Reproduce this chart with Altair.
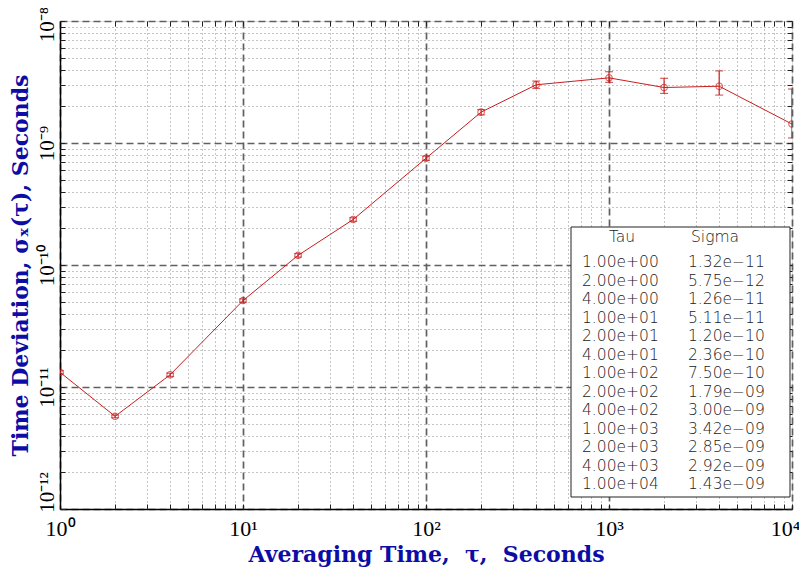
import altair as alt
import pandas as pd

# ---- data ----
tau = [1, 2, 4, 10, 20, 40, 100, 200, 400, 1000, 2000, 4000, 10000]
sigma = [1.32e-11, 5.75e-12, 1.26e-11, 5.11e-11, 1.20e-10, 2.36e-10, 7.50e-10,
         1.79e-09, 3.00e-09, 3.42e-09, 2.85e-09, 2.92e-09, 1.43e-09]
sigma_lo = [1.28e-11, 5.60e-12, 1.22e-11, 4.95e-11, 1.16e-10, 2.28e-10, 7.20e-10,
            1.70e-09, 2.80e-09, 3.14e-09, 2.55e-09, 2.47e-09, 1.10e-09]
sigma_hi = [1.36e-11, 5.90e-12, 1.30e-11, 5.27e-11, 1.24e-10, 2.44e-10, 7.80e-10,
            1.88e-09, 3.22e-09, 3.84e-09, 3.39e-09, 3.90e-09, 2.77e-09]
tau_text = ["1.00e+00", "2.00e+00", "4.00e+00", "1.00e+01", "2.00e+01", "4.00e+01",
            "1.00e+02", "2.00e+02", "4.00e+02", "1.00e+03", "2.00e+03", "4.00e+03",
            "1.00e+04"]
sigma_text = ["1.32e−11", "5.75e−12", "1.26e−11", "5.11e−11", "1.20e−10", "2.36e−10",
              "7.50e−10", "1.79e−09", "3.00e−09", "3.42e−09", "2.85e−09", "2.92e−09",
              "1.43e−09"]
header = ["Tau", "Sigma"]
x_decades = [0, 1, 2, 3, 4]
y_decades = [-12, -11, -10, -9, -8]

df = pd.DataFrame({"tau": tau, "sigma": sigma, "lo": sigma_lo, "hi": sigma_hi})
tbl = pd.DataFrame({"row": list(range(len(tau_text))), "t": tau_text, "s": sigma_text})
hdr = pd.DataFrame({"row": [-1.35]})

SUP = {"0": "⁰", "1": "¹", "2": "²", "3": "³", "4": "⁴", "5": "⁵", "6": "⁶",
       "7": "⁷", "8": "⁸", "9": "⁹", "-": "⁻"}


def sup(n):
    return "".join(SUP[c] for c in str(n))


def minor_values(decs):
    vals = []
    for d in decs[:-1]:
        for k in range(1, 10):
            vals.append(float(f"{k}e{d}"))
    vals.append(float(f"1e{decs[-1]}"))
    return vals


def label_expr(decs):
    expr = "''"
    for d in reversed(decs):
        expr = f"(abs(log(datum.value)/LN10 - ({d})) < 0.001) ? '10{sup(d)}' : {expr}"
    return expr


MAJOR = "abs(log(datum.value)/LN10 - round(log(datum.value)/LN10)) < 0.001"
grid_dash = {"condition": {"test": MAJOR, "value": [7, 4]}, "value": [1, 3]}
grid_color = {"condition": {"test": MAJOR, "value": "#606060"}, "value": "#8a8a8a"}
grid_width = {"condition": {"test": MAJOR, "value": 1.7}, "value": 1}
x_label_off = {"condition": {"test": "datum.value > 9999", "value": -7}, "value": 0}
y_label_off = {"condition": [{"test": "datum.value < 1.1e-12", "value": -17},
                             {"test": "datum.value > 0.9e-8", "value": 3}], "value": 0}

xv = minor_values(x_decades)
yv = minor_values(y_decades)
xscale = alt.Scale(type="log", domain=[1, 10000], nice=False)
yscale = alt.Scale(type="log", domain=[1e-12, 1e-8], nice=False)

BLUE = "#0d0da6"
RED = "#c81e1e"
SERIF = "Liberation Serif"
TSERIF = "DejaVu Serif"
NB = "\u00a0"

x_main = alt.X("tau:Q", scale=xscale, axis=alt.Axis(
    values=xv, labelExpr=label_expr(x_decades), tickSize=0, grid=True,
    gridDash=grid_dash, gridColor=grid_color, gridWidth=grid_width,
    domainColor="#000000", domainWidth=1.5,
    labelFont=SERIF, labelFontSize=22, labelColor="#000000", labelPadding=9,
    labelOffset=x_label_off, labelFlush=False, labelOverlap=False,
    title=f"Averaging Time,{NB} τ,{NB} Seconds", titleFont=TSERIF,
    titleFontSize=22, titleFontWeight="bold", titleColor=BLUE,
    titleX=366, titleY=52, titleBaseline="alphabetic", titleAlign="center"))
y_main = alt.Y("sigma:Q", scale=yscale, axis=alt.Axis(
    values=yv, labelExpr=label_expr(y_decades), tickSize=0, grid=True,
    gridDash=grid_dash, gridColor=grid_color, gridWidth=grid_width,
    domainColor="#000000", domainWidth=1.5,
    labelFont=SERIF, labelFontSize=21, labelColor="#000000", labelPadding=3,
    labelAngle=270, labelOffset=y_label_off, labelFlush=False, labelOverlap=False,
    title="Time Deviation, σₓ(τ), Seconds", titleFont=TSERIF,
    titleFontSize=22, titleFontWeight="bold", titleColor=BLUE,
    titleX=-40, titleY=244, titleBaseline="middle", titleAlign="center", titleAngle=270))

line = alt.Chart(df).mark_line(color=RED, strokeWidth=1, clip=True).encode(x=x_main, y=y_main)

xn = alt.X("tau:Q", scale=xscale, axis=None)
yn = alt.Y("sigma:Q", scale=yscale, axis=None)

bars = alt.Chart(df).mark_rule(color=RED, strokeWidth=1.2, clip=True).encode(
    x=xn, y=alt.Y("lo:Q", scale=yscale, axis=None), y2="hi:Q")
cap_lo = alt.Chart(df).mark_tick(color=RED, orient="horizontal", size=8, thickness=1.2,
                                 clip=True).encode(x=xn, y=alt.Y("lo:Q", scale=yscale, axis=None))
cap_hi = alt.Chart(df).mark_tick(color=RED, orient="horizontal", size=8, thickness=1.2,
                                 clip=True).encode(x=xn, y=alt.Y("hi:Q", scale=yscale, axis=None))
pts = alt.Chart(df).mark_point(shape="circle", size=42, filled=False, color=RED,
                               strokeWidth=1.1, clip=True).encode(x=xn, y=yn)


def tick_axis(orient, vals):
    return alt.Axis(orient=orient, values=vals, offset=-5, tickSize=5, tickColor="#222222",
                    tickWidth=1, labels=False, domain=False, grid=False, title=None)


ticks_bl = alt.Chart(df).mark_point(opacity=0).encode(
    x=alt.X("tau:Q", scale=xscale, axis=tick_axis("bottom", xv)),
    y=alt.Y("sigma:Q", scale=yscale, axis=tick_axis("left", yv)))
ticks_tr = alt.Chart(df).mark_point(opacity=0).encode(
    x=alt.X("tau:Q", scale=xscale, axis=tick_axis("top", xv)),
    y=alt.Y("sigma:Q", scale=yscale, axis=tick_axis("right", yv)))

main = alt.layer(line, bars, cap_lo, cap_hi, pts, ticks_bl, ticks_tr).resolve_axis(
    x="independent", y="independent")

# ---- inset table ----
box = alt.Chart(pd.DataFrame({"a": [0]})).mark_rect(
    fill="white", stroke="#222222", strokeWidth=1).encode(
    x=alt.value(511), x2=alt.value(730), y=alt.value(206), y2=alt.value(476))

row_scale = alt.Scale(domain=[0, 12], range=[241, 463])
TF = "DejaVu Sans"
TSTYLE = dict(font=TF, fontSize=15.5, fontWeight=300, color="#222222", baseline="middle")
tcol = alt.Chart(tbl).mark_text(align="left", **TSTYLE).encode(
    x=alt.value(522), y=alt.Y("row:Q", scale=row_scale, axis=None), text="t:N")
scol = alt.Chart(tbl).mark_text(align="left", **TSTYLE).encode(
    x=alt.value(628), y=alt.Y("row:Q", scale=row_scale, axis=None), text="s:N")
h1 = alt.Chart(hdr).mark_text(align="center", text=header[0], **TSTYLE).encode(
    x=alt.value(562), y=alt.Y("row:Q", scale=row_scale, axis=None))
h2 = alt.Chart(hdr).mark_text(align="center", text=header[1], **TSTYLE).encode(
    x=alt.value(655), y=alt.Y("row:Q", scale=row_scale, axis=None))

table = alt.layer(box, tcol, scol, h1, h2)

chart = alt.layer(main, table).resolve_scale(y="independent").properties(
    width=732, height=488,
    autosize=alt.AutoSizeParams(type="none"),
    padding={"left": 52, "top": 13, "right": 7, "bottom": 58},
).configure_view(stroke="#808080", strokeWidth=2).configure(background="white")

chart.save("out.html", embed_options={"renderer": "svg", "actions": False})
